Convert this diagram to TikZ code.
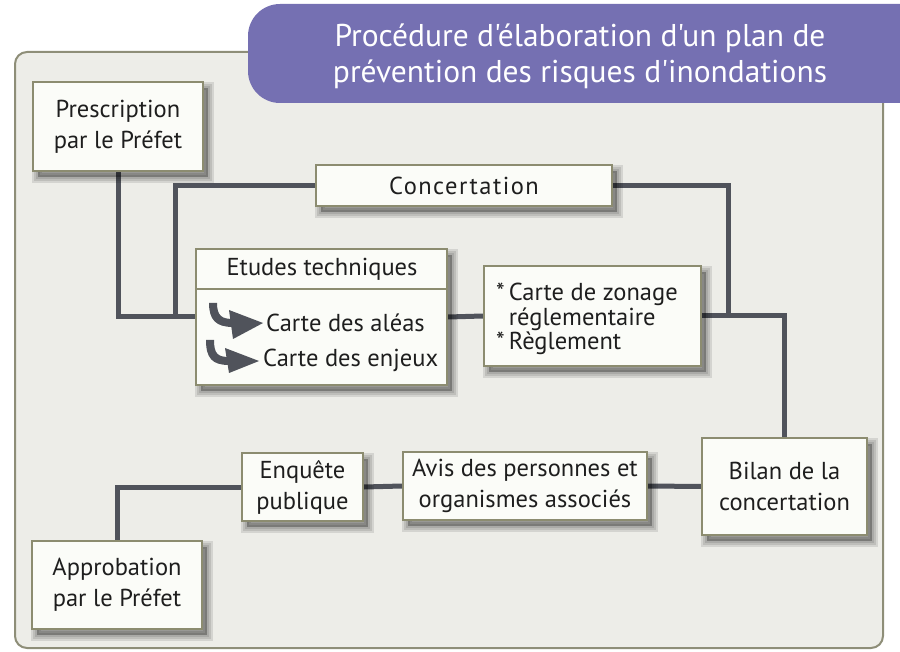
\documentclass[tikz,border=0pt]{standalone}
\usepackage{fontspec}
\setmainfont{PT Sans}
\newfontfamily\titlefont{PT Sans}
\definecolor{panelfill}{HTML}{EDEDE8}
\definecolor{panelline}{HTML}{8E8E78}
\definecolor{boxfill}{HTML}{FBFCF8}
\definecolor{boxline}{HTML}{8C8C70}
\definecolor{conn}{HTML}{50535B}
\definecolor{banner}{HTML}{7570B2}
\definecolor{textc}{HTML}{1E1E1E}
\pgfdeclarelayer{back}
\pgfdeclarelayer{bg}
\pgfsetlayers{back,bg,main}
\newcommand\boxfont{\fontsize{24.5}{31}\selectfont}
\begin{document}
\begin{tikzpicture}[x=1pt,y=-1pt,
  shadowpart/.style={fill=black, draw=black, line width=#1, opacity=0.1,
    transform canvas={shift={(5pt,-6pt)}}},
  box/.style={draw=boxline, line width=2.2pt, fill=boxfill,
    preaction={shadowpart=12pt}, preaction={shadowpart=8pt},
    preaction={shadowpart=4pt},
    inner sep=0pt, align=center, font=\boxfont, text=textc},
  txt/.style={inner sep=0pt, font=\boxfont, text=textc},
  link/.style={draw=conn, line width=5pt}]
\useasboundingbox (0,0) rectangle (900,652);
\begin{pgfonlayer}{back}
  \draw[fill=panelfill, draw=panelline, line width=2pt, rounded corners=12pt] (15,52) rectangle (883,648);
  \fill[banner, rounded corners=32pt] (248,4) rectangle (935,103);
\end{pgfonlayer}
\node[inner sep=0pt, text=white, align=center, font=\titlefont\fontsize{31.5}{36}\selectfont] (title) at (580,56)
  {Procédure d'élaboration d'un plan de\\prévention des risques d'inondations};

\node[box, minimum width=170pt, minimum height=89pt] (pres) at (118,126.5) {Prescription\\par le Préfet};
\node[box, minimum width=296pt, minimum height=41pt] (conc) at (464,185.5)
  {\addfontfeatures{LetterSpace=6}Concertation};
\node[box, minimum width=251pt, minimum height=136pt] (etu) at (321.5,317) {};
\draw[boxline, line width=2pt] (etu.west |- 0,289) -- (etu.east |- 0,289);
\node[txt] (eth) at (322,269) {Etudes techniques};
\node[txt, anchor=west] (alea) at (266,323) {Carte des aléas};
\node[txt, anchor=west] (enj) at (263,360) {Carte des enjeux};
\node[box, minimum width=217pt, minimum height=100pt] (zon) at (592.5,316) {};
\node[txt, anchor=west, font=\fontsize{24.5}{22.5}\selectfont] (zontext) at (496,320)
  {\begin{tabular}{@{}l@{\,}l@{}}{*}&Carte de zonage\\&réglementaire\\{*}&Règlement\end{tabular}};
\node[box, minimum width=165pt, minimum height=97pt] (bil) at (784.5,486.5) {Bilan de la\\concertation};
\node[box, minimum width=244pt, minimum height=68pt] (avis) at (525,486) {Avis des personnes et\\organismes associés};
\node[box, minimum width=121pt, minimum height=68pt] (enq) at (302.5,487) {Enquête\\publique};
\node[box, minimum width=170pt, minimum height=88pt] (app) at (117,585) {Approbation\\par le Préfet};

% curved arrow icons
\fill[conn] (209,303) -- (217,303) .. controls (217,316) and (222,319) .. (233,319) -- (233,327)
  .. controls (216,327) and (209,320) .. (209,303) -- cycle;
\fill[conn] (229,310) -- (263,323) -- (233,339) -- cycle;
\begin{scope}[shift={(-4,38)}]
\fill[conn] (210,302) -- (218,302) .. controls (218,316) and (222,319) .. (233,319) -- (233,327)
  .. controls (216,327) and (210,320) .. (210,302) -- cycle;
\fill[conn] (229,310) -- (263,323) -- (233,335) -- cycle;
\end{scope}

\coordinate (jl) at (175,317);
\coordinate (jr) at (728,316);
\begin{pgfonlayer}{bg}
  \draw[link] (pres.south) |- (etu.west);
  \draw[link] (conc.west) -| (jl);
  \draw[link] (conc.east) -| (jr);
  \draw[link] (etu.east) -- (zon.west);
  \draw[link] (zon.east) -| (bil.north);
  \draw[link] (bil.west) -- (avis.east);
  \draw[link] (avis.west) -- (enq.east);
  \draw[link] (enq.west) -| (app.north);
\end{pgfonlayer}
\end{tikzpicture}
\end{document}
